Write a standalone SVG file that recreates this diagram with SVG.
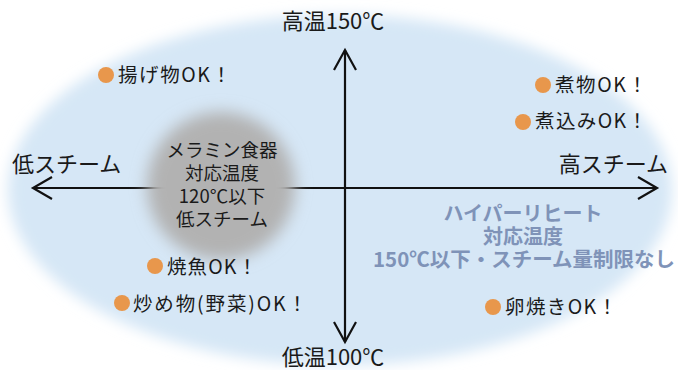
<svg xmlns="http://www.w3.org/2000/svg" width="678" height="370" viewBox="0 0 678 370">
  <style>
    text { font-family: "Noto Sans CJK JP", "Noto Sans", sans-serif; fill: #1a1a1a; }
    .axis { font-size: 22px; }
    .item { font-size: 19.5px; }
    .circ { font-size: 18.5px; text-anchor: middle; }
    .hr { font-size: 20px; font-weight: bold; fill: #7f93b8; text-anchor: middle; }
    .dot { fill: #e8974c; }
    .ax { stroke: #111; stroke-width: 2.2; fill: none; }
  </style>
  <defs>
    <filter id="blurBg" x="-10%" y="-10%" width="120%" height="120%">
      <feGaussianBlur stdDeviation="7"/>
    </filter>
    <filter id="blurC" x="-30%" y="-30%" width="160%" height="160%">
      <feGaussianBlur stdDeviation="8"/>
    </filter>
  </defs>
  <rect width="678" height="370" fill="#ffffff"/>
  <g id="background">
    <ellipse cx="340" cy="190" rx="332" ry="175" fill="#d6e7f6" filter="url(#blurBg)"/>
  </g>
  <g id="connectors">
    <line class="ax" x1="33" y1="188" x2="657" y2="188"/>
    <polyline class="ax" points="52,177 33,188 52,199"/>
    <polyline class="ax" points="638,177 657,188 638,199"/>
    <line class="ax" x1="345" y1="50" x2="345" y2="342"/>
    <polyline class="ax" points="334,70 345,50 356,70"/>
    <polyline class="ax" points="334,322 345,342 356,322"/>
  </g>
  <g id="melamine">
    <circle cx="221" cy="186" r="74" fill="#b2b2b2" filter="url(#blurC)"/>
    <text class="circ" x="222" y="157">メラミン食器</text>
    <text class="circ" x="222" y="180">対応温度</text>
    <text class="circ" x="222" y="203">120℃以下</text>
    <text class="circ" x="222" y="226">低スチーム</text>
  </g>
  <g id="axis-top"><text class="axis" x="333" y="29" text-anchor="middle">高温150℃</text></g>
  <g id="axis-bottom"><text class="axis" x="333" y="365" text-anchor="middle">低温100℃</text></g>
  <g id="axis-left"><text class="axis" x="12" y="172">低スチーム</text></g>
  <g id="axis-right"><text class="axis" x="668" y="172" text-anchor="end">高スチーム</text></g>
  <g id="hyper-reheat">
    <text class="hr" x="523" y="221">ハイパーリヒート</text>
    <text class="hr" x="523" y="244">対応温度</text>
    <text class="hr" x="524" y="267" textLength="302" lengthAdjust="spacingAndGlyphs">150℃以下・スチーム量制限なし</text>
  </g>
  <g id="item-agemono">
    <circle class="dot" cx="106" cy="75" r="8"/>
    <text class="item" x="118" y="82" textLength="113" lengthAdjust="spacing">揚げ物OK！</text>
  </g>
  <g id="item-nimono">
    <circle class="dot" cx="543" cy="85" r="8"/>
    <text class="item" x="555" y="92" textLength="92" lengthAdjust="spacing">煮物OK！</text>
  </g>
  <g id="item-nikomi">
    <circle class="dot" cx="523" cy="122" r="8"/>
    <text class="item" x="535" y="128" textLength="112" lengthAdjust="spacing">煮込みOK！</text>
  </g>
  <g id="item-yakizakana">
    <circle class="dot" cx="155" cy="266" r="8"/>
    <text class="item" x="167" y="274" textLength="90" lengthAdjust="spacing">焼魚OK！</text>
  </g>
  <g id="item-itamemono">
    <circle class="dot" cx="122" cy="303" r="8"/>
    <text class="item" x="133" y="311" textLength="174" lengthAdjust="spacing">炒め物(野菜)OK！</text>
  </g>
  <g id="item-tamagoyaki">
    <circle class="dot" cx="493" cy="307" r="8"/>
    <text class="item" x="505" y="314" textLength="112" lengthAdjust="spacing">卵焼きOK！</text>
  </g>
</svg>
